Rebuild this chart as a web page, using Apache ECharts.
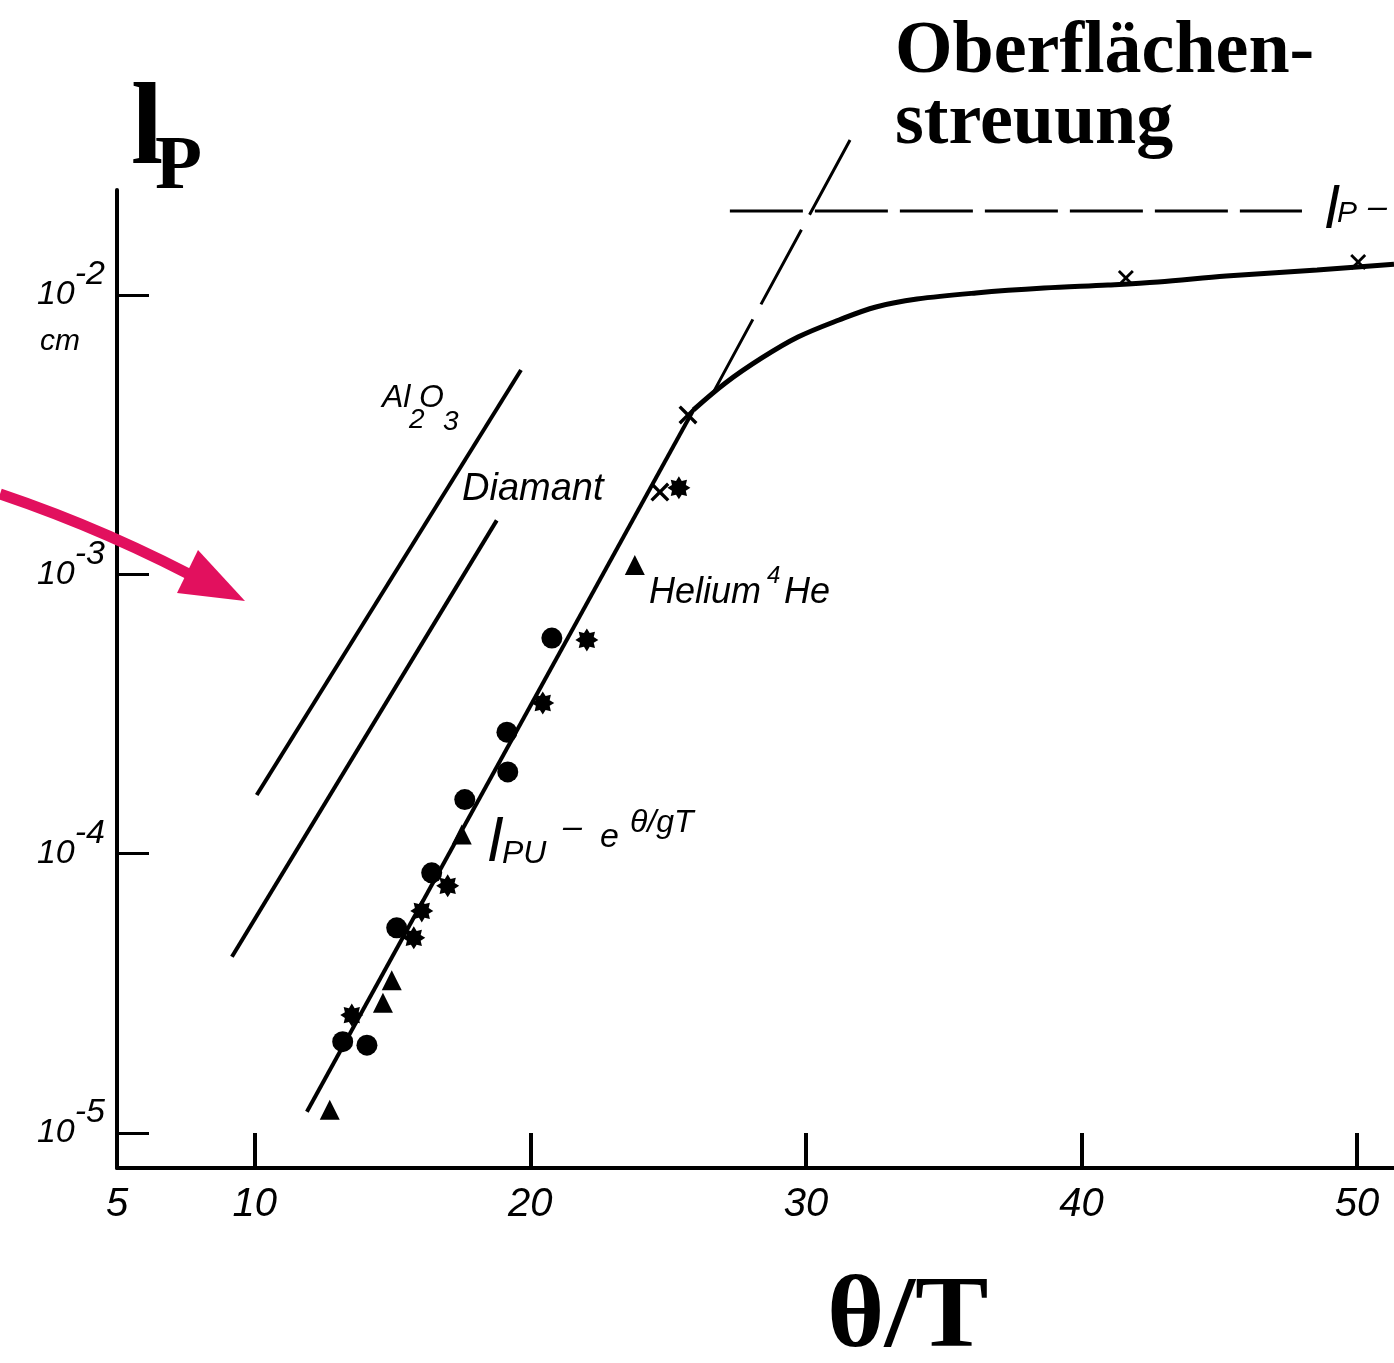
<!DOCTYPE html>
<html><head><meta charset="utf-8">
<script src="https://cdn.jsdelivr.net/npm/echarts@6/dist/echarts.min.js"></script>
<style>html,body{margin:0;padding:0;background:#fff}#c{width:1394px;height:1363px}</style>
</head><body><div id="c"></div>
<script>
// ---------- data ----------
const xTickValues = [10, 20, 30, 40, 50];
const xLabelValues = [5, 10, 20, 30, 40, 50];
const yDecadeValues = [1e-5, 1e-4, 1e-3, 1e-2];
const xMin = 5, xMax = 51.34;
const yMin = Math.pow(10, -5.126), yMax = Math.pow(10, -1.624);

const al2o3Line = [[10.07, 1.62e-4], [19.66, 5.39e-3]];
const diamantLine = [[9.17, 4.27e-5], [18.78, 1.56e-3]];
const heliumBulkLine = [[11.89, 1.19e-5], [25.92, 3.88e-3]];
const heliumTotalCurve = [[25.92, 3.88e-3], [27.08, 4.84e-3], [28.40, 5.95e-3], [29.71, 7.07e-3],
  [31.20, 8.14e-3], [32.54, 9.06e-3], [34.03, 9.67e-3], [36.17, 1.017e-2], [38.64, 1.059e-2],
  [40.96, 1.086e-2], [42.78, 1.113e-2], [45.25, 1.169e-2], [48.55, 1.229e-2], [51.34, 1.29e-2]];
const bulkExtension = [[31.6, 0.0359], [26.59, 4.39e-3]];
const surfaceLimit = [[27.24, 0.02], [48.0, 0.02]];

const circlePoints = [[20.78, 5.91e-4], [19.15, 2.72e-4], [19.18, 1.96e-4], [17.62, 1.56e-4],
  [16.42, 8.53e-5], [15.15, 5.42e-5], [13.19, 2.12e-5], [14.07, 2.06e-5]];
const trianglePoints = [[12.72, 1.21e-5], [14.65, 2.92e-5], [14.97, 3.52e-5], [17.51, 1.17e-4], [23.79, 1.08e-3]];
const starPoints = [[13.52, 2.64e-5], [15.77, 4.99e-5], [16.06, 6.23e-5], [17.0, 7.66e-5],
  [20.45, 3.46e-4], [22.05, 5.82e-4], [25.39, 2.04e-3]];
const crossPoints = [[24.70, 1.97e-3], [25.72, 3.72e-3]];
const plateauCrossPoints = [[41.61, 1.15e-2], [50.04, 1.312e-2]];

// ---------- chart ----------
const chart = echarts.init(document.getElementById('c'), null, {renderer: 'canvas'});
const HAND = 'Liberation Sans';
const SERIF = 'Liberation Serif';
const starPath = 'path://M10,0L12.49,4L17.07,2.93L16,7.51L20,10L16,12.49L17.07,17.07L12.49,16L10,20L7.51,16L2.93,17.07L4,12.49L0,10L4,7.51L2.93,2.93L7.51,4Z';
const crossPath = 'path://M0,2.5L2.5,0L10,7.5L17.5,0L20,2.5L12.5,10L20,17.5L17.5,20L10,12.5L2.5,20L0,17.5L7.5,10Z';

function line(name, data, width, type, smooth) {
  return {type: 'line', name, data, symbol: 'none', showSymbol: false, smooth: smooth || false,
    clip: false, silent: true, lineStyle: {color: '#000', width, type: type || 'solid', cap: 'butt', opacity: 1}, z: 3};
}
function scatter(name, data, symbol, size) {
  return {type: 'scatter', name, data, symbol, symbolSize: size, clip: false, silent: true,
    itemStyle: {color: '#000', opacity: 1}, z: 4};
}
function txt(text, x, baseline, fs, opt) {
  opt = opt || {};
  const k = opt.serif ? 0.26 : 0.27;
  const el = {type: 'text', x, y: baseline - k * fs, z: 10, silent: true,
    style: {text, fill: opt.color || '#000',
      font: (opt.serif ? 'normal ' : 'italic ') + (opt.bold ? 'bold ' : 'normal ') + fs + 'px "' + (opt.serif ? SERIF : HAND) + '"',
      align: 'left', verticalAlign: 'middle', textAlign: 'left', textVerticalAlign: 'middle'}};
  if (opt.scaleX) el.scaleX = opt.scaleX;
  return el;
}

const option = {
  backgroundColor: '#fff',
  animation: false,
  grid: {left: 117, right: 0, top: 190, bottom: 195, containLabel: false},
  xAxis: {
    type: 'value', min: xMin, max: xMax,
    axisLine: {show: true, onZero: false, lineStyle: {color: '#000', width: 4}},
    axisTick: {show: true, inside: true, length: 35, customValues: xTickValues, lineStyle: {color: '#000', width: 4}},
    axisLabel: {show: true, customValues: xLabelValues, margin: 17, color: '#000',
      fontSize: 40, fontStyle: 'italic', fontFamily: HAND, showMinLabel: true, showMaxLabel: true},
    splitLine: {show: false}
  },
  yAxis: {
    type: 'log', logBase: 10, min: yMin, max: yMax,
    axisLine: {show: true, onZero: false, lineStyle: {color: '#000', width: 4}},
    axisTick: {show: true, inside: true, length: 32, customValues: yDecadeValues, lineStyle: {color: '#000', width: 3}},
    axisLabel: {
      show: true, customValues: yDecadeValues, margin: 12, color: '#000',
      formatter: function (v) {
        const e = Math.round(Math.log10(v));
        if (e === -2) return '{e| }\n{b|10}{s|' + e + '}\n{c|cm}';
        return '{b|10}{s|' + e + '}';
      },
      rich: {
        b: {fontSize: 34, fontStyle: 'italic', fontFamily: HAND, color: '#000', lineHeight: 34},
        s: {fontSize: 34, fontStyle: 'italic', fontFamily: HAND, color: '#000', lineHeight: 34, padding: [0, 0, 40, 0]},
        c: {fontSize: 30, fontStyle: 'italic', fontFamily: HAND, color: '#000', lineHeight: 60, padding: [0, 25, 0, 0]},
        e: {fontSize: 20, lineHeight: 60}
      }
    },
    splitLine: {show: false}
  },
  series: [
    line('Al2O3', al2o3Line, 4),
    line('Diamant', diamantLine, 4),
    line('Helium bulk', heliumBulkLine, 4),
    line('Helium total', heliumTotalCurve, 5, 'solid', 0.35),
    line('Bulk extension', bulkExtension, 3, [85, 17]),
    line('Surface limit', surfaceLimit, 3, [73, 12]),
    scatter('circles', circlePoints, 'circle', 21),
    scatter('triangles', trianglePoints, 'triangle', 20),
    scatter('stars', starPoints, starPath, 23),
    scatter('crosses', crossPoints, crossPath, 19),
    scatter('plateau crosses', plateauCrossPoints, crossPath, 16)
  ],
  graphic: [
    // titles
    txt('l', 131, 163, 116, {serif: true, bold: true}),
    txt('P', 155, 188, 77, {serif: true, bold: true}),
    txt('Oberflächen-', 895, 72, 74, {serif: true, bold: true}),
    txt('streuung', 895, 143, 74, {serif: true, bold: true}),
    txt('θ/T', 827, 1346, 102, {serif: true, bold: true, scaleX: 1.08}),
    // handwritten annotations
    txt('Al', 382, 407, 32), txt('2', 409, 428, 28), txt('O', 419, 407, 32), txt('3', 443, 430, 28),
    txt('Diamant', 462, 500, 38),
    txt('Helium', 649, 603, 36), txt('4', 767, 583, 24), txt('He', 784, 603, 36),
    txt('l', 488, 860, 62), txt('PU', 502, 863, 32), txt('–', 563, 837, 34), txt('e', 600, 847, 34), txt('θ/gT', 630, 832, 32),
    txt('l', 1325, 228, 60), txt('P', 1337, 222, 30), txt('–', 1368, 217, 34),
    // magenta arrow
    {type: 'bezierCurve', z: 20, silent: true,
      shape: {x1: 0, y1: 494, x2: 215, y2: 588, cpx1: 110, cpy1: 531},
      style: {stroke: '#E2105E', lineWidth: 11, fill: null}},
    {type: 'polygon', z: 20, silent: true,
      shape: {points: [[198, 550], [177, 593], [245, 601]]},
      style: {fill: '#E2105E'}}
  ]
};
chart.setOption(option);
</script>
</body></html>
